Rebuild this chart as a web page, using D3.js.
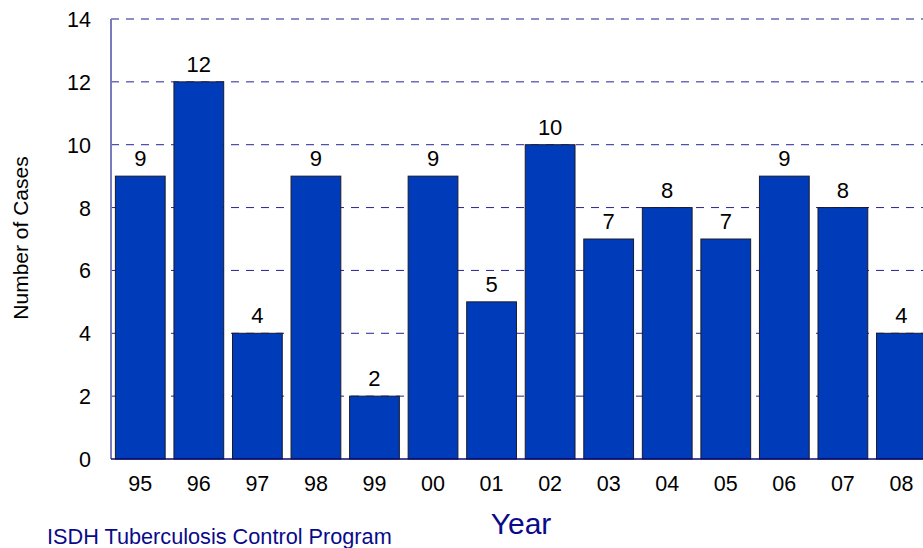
<!DOCTYPE html>
<html><head><meta charset="utf-8">
<script src="https://cdn.jsdelivr.net/npm/d3@7"></script>
<style>body{margin:0;background:#fff}svg{display:block;font-family:Arial,"Liberation Sans",sans-serif}</style>
</head><body>
<svg id="c" width="923" height="548"></svg>
<script>
const years = ["95","96","97","98","99","00","01","02","03","04","05","06","07","08"];
const cases = [9,12,4,9,2,9,5,10,7,8,7,9,8,4];
const yTicks = [0,2,4,6,8,10,12,14];

(function(){
const svg = d3.select("#c");
const pLeft = 111, pTop = 19, pBottom = 459, step = 58.55;
const pRight = pLeft + step * years.length;
const x = d3.scaleBand().domain(years).range([pLeft, pRight]).paddingInner(0.15).paddingOuter(0.075);
const y = d3.scaleLinear().domain([0,14]).range([pBottom, pTop]);

// gridlines
svg.append("g").selectAll("line").data(yTicks.filter(d => d > 0)).join("line")
  .attr("x1", pLeft).attr("x2", 923)
  .attr("y1", d => y(d)).attr("y2", d => y(d))
  .attr("stroke", d => d === 14 ? "#6a6ab4" : "#22229a")
  .attr("stroke-width", d => d === 14 ? 1.6 : 1)
  .attr("stroke-dasharray", "8,7");

// bars
svg.append("g").selectAll("rect").data(years).join("rect")
  .attr("x", d => x(d)).attr("width", x.bandwidth())
  .attr("y", (d,i) => y(cases[i])).attr("height", (d,i) => pBottom - y(cases[i]))
  .attr("fill", "#003cb9").attr("stroke", "#1a1a2a").attr("stroke-width", 1);

// value labels
svg.append("g").selectAll("text").data(years).join("text")
  .attr("x", d => x(d) + x.bandwidth()/2).attr("y", (d,i) => y(cases[i]) - 10)
  .attr("text-anchor", "middle").attr("font-size", 22).attr("fill", "#000")
  .text((d,i) => cases[i]);

// axes lines
svg.append("line").attr("x1", pLeft).attr("x2", pLeft).attr("y1", pTop).attr("y2", pBottom)
  .attr("stroke", "#7a7abf").attr("stroke-width", 2);
svg.append("line").attr("x1", pLeft).attr("x2", 923).attr("y1", pBottom).attr("y2", pBottom)
  .attr("stroke", "#0a0a70").attr("stroke-width", 1.5);

// y tick labels
svg.append("g").selectAll("text").data(yTicks).join("text")
  .attr("x", 91).attr("y", d => y(d) + 8)
  .attr("text-anchor", "end").attr("font-size", 21.5).attr("fill", "#000").text(d => d);

// x tick labels
svg.append("g").selectAll("text").data(years).join("text")
  .attr("x", d => x(d) + x.bandwidth()/2).attr("y", 491)
  .attr("text-anchor", "middle").attr("font-size", 21.5).attr("fill", "#000").text(d => d);

// titles
svg.append("text").attr("transform", "translate(28,238) rotate(-90)")
  .attr("text-anchor", "middle").attr("font-size", 21).attr("fill", "#000").text("Number of Cases");
svg.append("text").attr("x", 521).attr("y", 534).attr("text-anchor", "middle")
  .attr("font-size", 30).attr("fill", "#0a0a8a").text("Year");
svg.append("text").attr("x", 47).attr("y", 544)
  .attr("font-size", 21.7).attr("fill", "#0a0a8a").text("ISDH Tuberculosis Control Program");
})();
</script>
</body></html>
